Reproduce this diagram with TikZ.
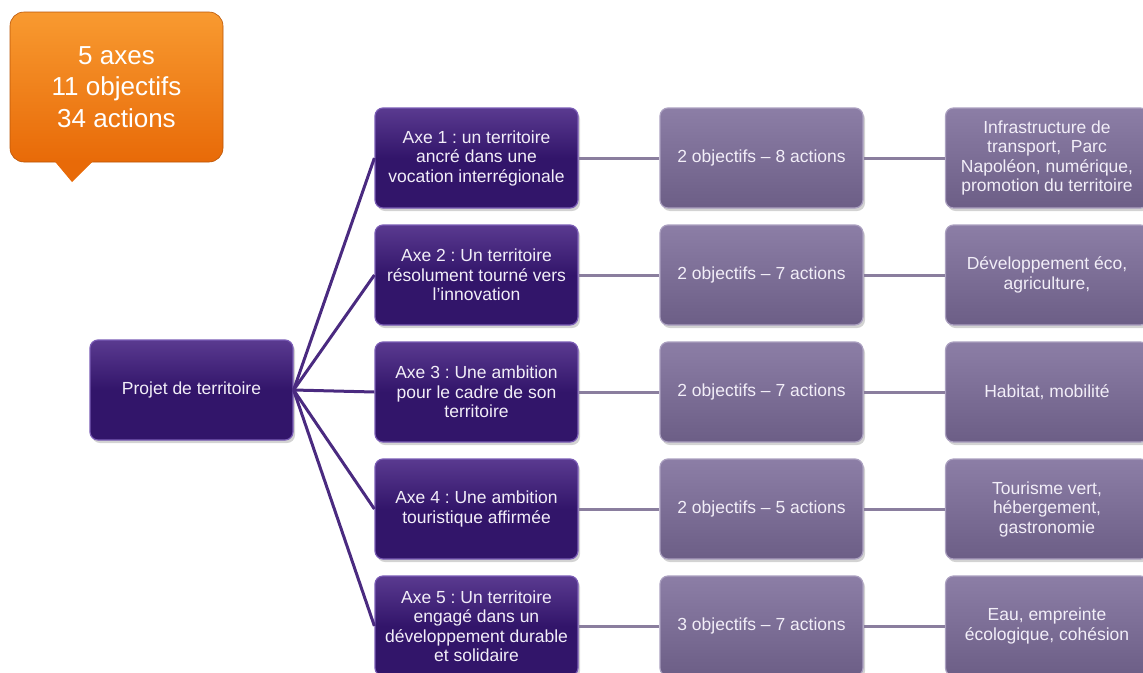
\documentclass[tikz,border=0pt]{standalone}
\usepackage{fontspec}
\setmainfont{Liberation Sans}
\usetikzlibrary{shadows}
\definecolor{purpdark}{HTML}{32156A}
\definecolor{purptop}{HTML}{5A3A90}
\definecolor{purpedge}{HTML}{7A5CB5}
\definecolor{greytop}{HTML}{8C7EA6}
\definecolor{greybot}{HTML}{6C5E86}
\definecolor{greyedge}{HTML}{ABA0C0}
\definecolor{linedark}{HTML}{4A2A80}
\definecolor{linegrey}{HTML}{8A7E9E}
\definecolor{orangetop}{HTML}{F89A30}
\definecolor{orangebot}{HTML}{E86A08}
\definecolor{txt}{HTML}{F2EEF8}
\frenchspacing
\tikzset{
  box/.style={rounded corners=8pt, minimum width=203pt, minimum height=100pt,
    align=center, text=txt, inner sep=0pt,
    font=\fontsize{17.5}{19.5}\selectfont,
    drop shadow={opacity=0.35, shadow xshift=2pt, shadow yshift=-3pt}},
  darkbox/.style={box, top color=purptop, bottom color=purpdark, middle color=purpdark, draw=purpedge, line width=1.2pt},
  greybox/.style={box, top color=greytop, bottom color=greybot, draw=greyedge, line width=1.2pt},
  darkline/.style={draw=linedark, line width=3pt},
  greyline/.style={draw=linegrey, line width=3pt},
}
\begin{document}
\begin{tikzpicture}[x=1pt,y=-1pt]
\useasboundingbox (0,0) rectangle (1143,672);
\clip (0,0) rectangle (1143,672);
% callout
\fill[orangebot] (52,158) -- (72,182) -- (96,158) -- cycle;
\node[rounded corners=14pt, minimum width=213pt, minimum height=150pt, inner sep=0pt,
  top color=orangetop, bottom color=orangebot, draw=orangebot!80!black, line width=0.6pt,
  text=white, align=center, font=\fontsize{26}{31.5}\selectfont] (stats) at (116.5,87) {5 axes\\11 objectifs\\34 actions};
\fill[orangebot] (54,160) -- (72,181) -- (94,160) -- cycle;
% connectors
\coordinate (rootE) at (293,390);
% root
\node[darkbox] (root) at (191.5,390) {Projet de territoire};
% axes
\node[darkbox] (a1) at (476.5,158) {Axe 1 : un territoire\\ancré dans une\\vocation interrégionale};
\node[darkbox] (a2) at (476.5,275) {Axe 2 : Un territoire\\résolument tourné vers\\l’innovation};
\node[darkbox] (a3) at (476.5,392) {Axe 3 : Une ambition\\pour le cadre de son\\territoire};
\node[darkbox] (a4) at (476.5,509) {Axe 4 : Une ambition\\touristique affirmée};
\node[darkbox] (a5) at (476.5,626) {Axe 5 : Un territoire\\engagé dans un\\développement durable\\et solidaire};
% middle
\node[greybox] (m1) at (761.5,158) {2 objectifs – 8 actions};
\node[greybox] (m2) at (761.5,275) {2 objectifs – 7 actions};
\node[greybox] (m3) at (761.5,392) {2 objectifs – 7 actions};
\node[greybox] (m4) at (761.5,509) {2 objectifs – 5 actions};
\node[greybox] (m5) at (761.5,626) {3 objectifs – 7 actions};
% right
\node[greybox] (r1) at (1047,158) {Infrastructure de\\transport,\ \ Parc\\Napoléon, numérique,\\promotion du territoire};
\node[greybox] (r2) at (1047,275) {Développement éco,\\agriculture,};
\node[greybox] (r3) at (1047,392) {Habitat, mobilité};
\node[greybox] (r4) at (1047,509) {Tourisme vert,\\hébergement,\\gastronomie};
\node[greybox] (r5) at (1047,626) {Eau, empreinte\\écologique, cohésion};
% connectors
\foreach \i in {1,...,5}{
  \draw[darkline] (root.east) -- (a\i.west);
  \draw[greyline] (a\i.east) -- (m\i.west);
  \draw[greyline] (m\i.east) -- (r\i.west);
}
\end{tikzpicture}
\end{document}
